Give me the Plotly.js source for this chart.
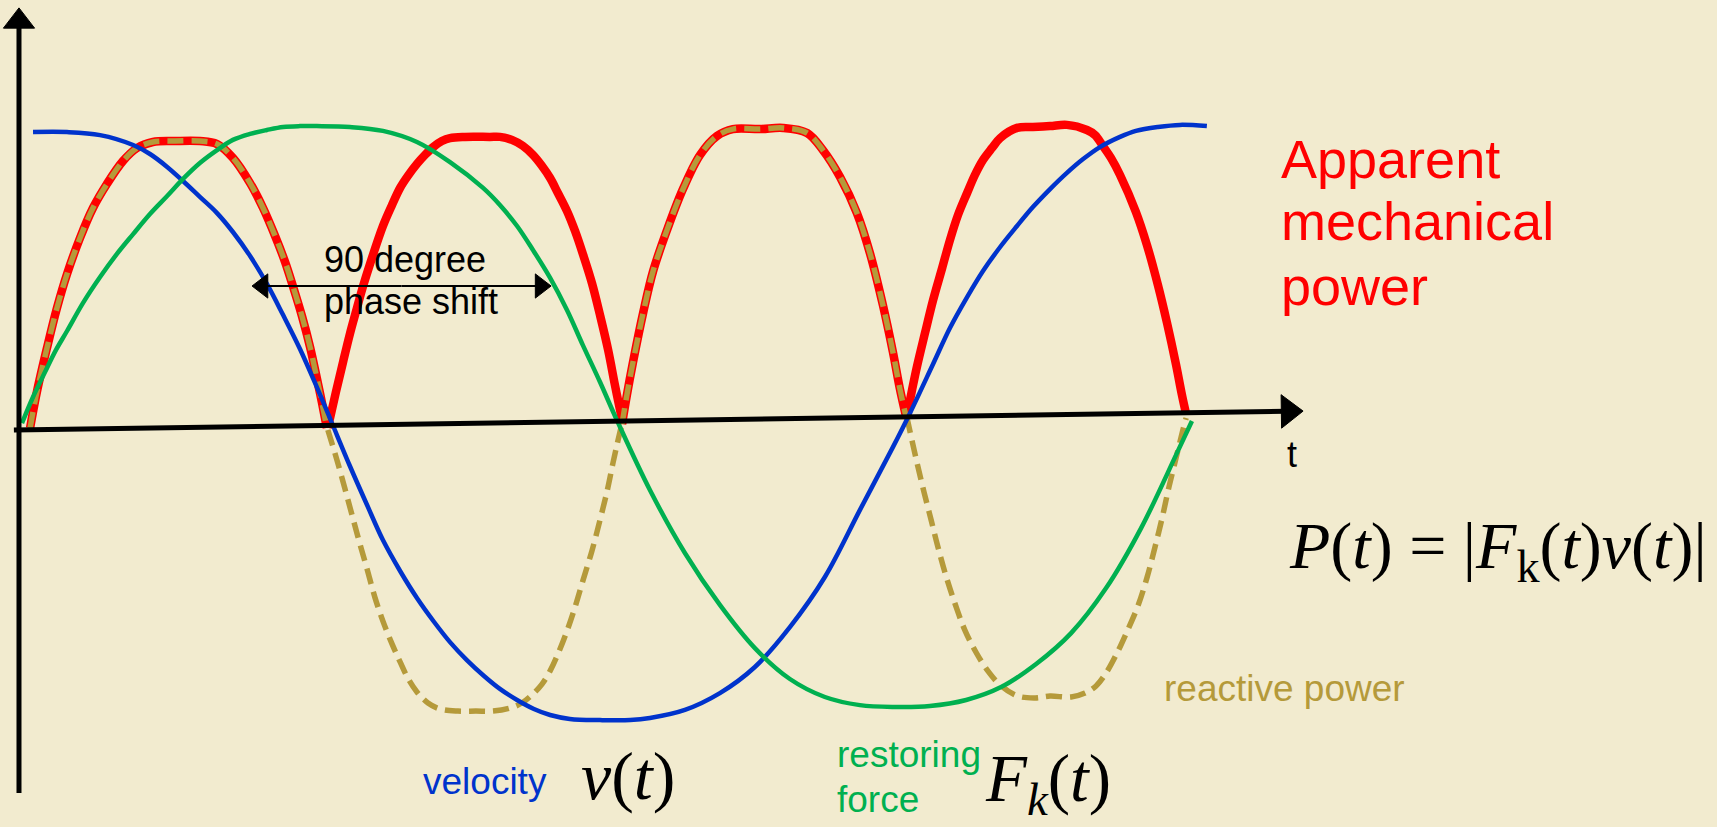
<!DOCTYPE html>
<html>
<head>
<meta charset="utf-8">
<script src="https://cdn.plot.ly/plotly-3.0.1.min.js"></script>
<style>
  html, body { margin: 0; padding: 0; background: #F2EBCF; }
  #chart { width: 1717px; height: 827px; }
</style>
</head>
<body>
<div id="chart"></div>
<script>
// phase t in degrees, amplitude normalised to ~1

// velocity v(t)
const velT = [3.4, 13.9, 24.1, 34.3, 39.5, 44.8, 49.7, 54.9, 60.2, 65.1, 70.4, 75.6, 80.6, 85.8, 91.0, 95.4, 101.2, 106.5, 111.4, 116.7, 121.9, 127.2, 132.1, 137.3, 142.6, 147.5, 152.8, 158.0, 163.0, 169.1, 178.4, 187.7, 193.8, 204.6, 215.4, 226.2, 237.0, 247.8, 258.6, 268.8, 274.1, 281.2, 286.4, 291.7, 296.6, 301.9, 307.1, 312.0, 317.3, 322.5, 327.5, 332.7, 338.9, 343.8, 350.6, 357.4, 365.7];
const velY = [0.993, 0.993, 0.983, 0.95, 0.92, 0.877, 0.83, 0.777, 0.723, 0.66, 0.58, 0.487, 0.383, 0.27, 0.143, 0.03, -0.12, -0.25, -0.367, -0.47, -0.56, -0.64, -0.707, -0.767, -0.82, -0.863, -0.9, -0.93, -0.95, -0.963, -0.967, -0.967, -0.96, -0.933, -0.877, -0.79, -0.657, -0.49, -0.267, -0.057, 0.057, 0.22, 0.34, 0.443, 0.53, 0.61, 0.68, 0.743, 0.803, 0.857, 0.903, 0.943, 0.977, 0.997, 1.01, 1.017, 1.013];

// restoring force Fk(t)
const forceT = [0, 3.4, 7.1, 10.5, 13.9, 18.8, 24.1, 29.3, 34.3, 39.5, 44.8, 49.7, 54.9, 60.2, 65.1, 70.4, 75.6, 80.6, 85.8, 91.0, 101.2, 111.4, 121.9, 132.1, 142.3, 147.5, 152.8, 157.7, 163.0, 168.2, 173.1, 178.4, 183.6, 193.8, 204.6, 215.4, 226.2, 237.0, 247.8, 258.6, 269.4, 280.2, 291.4, 302.2, 313.0, 323.8, 334.6, 345.4, 356.2, 361.1];
const forceY = [0.023, 0.11, 0.193, 0.267, 0.33, 0.423, 0.51, 0.587, 0.653, 0.72, 0.78, 0.837, 0.89, 0.933, 0.967, 0.987, 1.0, 1.01, 1.013, 1.013, 1.01, 0.997, 0.96, 0.893, 0.807, 0.75, 0.68, 0.6, 0.507, 0.4, 0.283, 0.16, 0.033, -0.2, -0.41, -0.583, -0.727, -0.83, -0.89, -0.917, -0.923, -0.92, -0.9, -0.857, -0.78, -0.677, -0.527, -0.327, -0.083, 0.03];

// apparent power |F v|, one hump per quarter period (null splits the humps)
const apparentT = [2.5, 4.6, 7.7, 10.8, 13.9, 17.9, 21.9, 26.2, 31.2, 35.5, 40.4, 47.2, 54.9, 60.2, 65.1, 70.4, 74.4, 78.1, 81.2, 83.6, 86.4, 88.9, 91.0, 92.6, 94.1, null,
  94.4, 96.9, 99.1, 101.2, 103.4, 105.2, 107.4, 111.4, 114.2, 116.7, 119.1, 121.9, 124.4, 126.9, 129.6, 132.1, 136.7, 144.4, 147.5, 151.2, 154.6, 157.7, 160.5, 163.0, 165.4, 168.2, 170.7, 173.1, 175.9, 178.4, 180.9, 183.0, 184.9, 185.5, null,
  185.2, 186.7, 188.6, 191.7, 194.8, 199.1, 204.0, 209.3, 214.5, 219.4, 227.8, 234.9, 242.3, 247.2, 252.5, 257.7, 261.7, 265.7, 268.8, 270.9, 272.8, null,
  273.1, 274.7, 276.2, 278.7, 281.2, 284.0, 286.4, 288.9, 291.7, 294.1, 296.6, 299.4, 301.9, 307.1, 312.0, 317.3, 322.5, 328.7, 331.2, 333.6, 336.1, 338.9, 343.8, 347.2, 350.6, 353.4, 356.2, 358.0, 359.3];
const apparentY = [0.007, 0.127, 0.273, 0.407, 0.52, 0.64, 0.74, 0.82, 0.897, 0.94, 0.96, 0.963, 0.963, 0.953, 0.907, 0.823, 0.74, 0.647, 0.56, 0.48, 0.38, 0.277, 0.173, 0.09, 0.007, null,
  0.007, 0.127, 0.227, 0.32, 0.407, 0.477, 0.553, 0.68, 0.75, 0.807, 0.847, 0.887, 0.917, 0.943, 0.963, 0.973, 0.977, 0.977, 0.977, 0.967, 0.947, 0.917, 0.88, 0.84, 0.79, 0.73, 0.663, 0.587, 0.49, 0.383, 0.267, 0.15, 0.05, 0.02, null,
  0.02, 0.117, 0.227, 0.39, 0.53, 0.667, 0.803, 0.917, 0.98, 1.003, 1.003, 1.007, 0.99, 0.933, 0.843, 0.723, 0.59, 0.417, 0.26, 0.14, 0.047, null,
  0.047, 0.133, 0.21, 0.323, 0.433, 0.54, 0.633, 0.717, 0.79, 0.85, 0.9, 0.94, 0.973, 1.007, 1.01, 1.013, 1.017, 1.0, 0.983, 0.947, 0.907, 0.85, 0.727, 0.617, 0.483, 0.357, 0.217, 0.117, 0.053];

// reactive power F v (signed): humps 1 and 3 coincide with the apparent power
const reactiveT = [2.5, 4.6, 7.7, 10.8, 13.9, 17.9, 21.9, 26.2, 31.2, 35.5, 40.4, 47.2, 54.9, 60.2, 65.1, 70.4, 74.4, 78.1, 81.2, 83.6, 86.4, 88.9, 91.0, 92.6, 94.1, null,
  94.4, 97.2, 99.7, 102.2, 104.3, 106.5, 108.9, 111.4, 114.2, 116.7, 119.1, 121.9, 125.3, 129.0, 134.6, 140.1, 145.4, 150.6, 154.3, 157.7, 160.5, 163.0, 165.4, 168.2, 170.7, 173.1, 175.9, 178.4, 180.6, 182.4, 183.9, 185.2, null,
  185.2, 186.7, 188.6, 191.7, 194.8, 199.1, 204.0, 209.3, 214.5, 219.4, 227.8, 234.9, 242.3, 247.2, 252.5, 257.7, 261.7, 265.7, 268.8, 270.9, 272.8, null,
  273.1, 275.9, 278.4, 280.6, 282.7, 285.2, 288.0, 291.0, 294.4, 298.1, 302.2, 307.4, 312.7, 317.3, 323.8, 328.1, 331.5, 334.6, 338.0, 341.0, 344.4, 347.2, 349.7, 351.9, 354.0, 356.2, 358.3, 359.3];
const reactiveY = [0.007, 0.127, 0.273, 0.407, 0.52, 0.64, 0.74, 0.82, 0.897, 0.94, 0.96, 0.963, 0.963, 0.953, 0.907, 0.823, 0.74, 0.647, 0.56, 0.48, 0.38, 0.277, 0.173, 0.09, 0.007, null,
  0, -0.1, -0.197, -0.297, -0.38, -0.463, -0.557, -0.637, -0.713, -0.773, -0.827, -0.873, -0.91, -0.93, -0.937, -0.937, -0.937, -0.927, -0.91, -0.88, -0.847, -0.803, -0.747, -0.67, -0.59, -0.503, -0.403, -0.3, -0.203, -0.11, -0.037, 0.023, null,
  0.02, 0.117, 0.227, 0.39, 0.53, 0.667, 0.803, 0.917, 0.98, 1.003, 1.003, 1.007, 0.99, 0.933, 0.843, 0.723, 0.59, 0.417, 0.26, 0.14, 0.047, null,
  0.043, -0.093, -0.207, -0.3, -0.39, -0.487, -0.58, -0.667, -0.74, -0.803, -0.853, -0.887, -0.893, -0.887, -0.89, -0.877, -0.853, -0.81, -0.743, -0.673, -0.587, -0.493, -0.39, -0.293, -0.19, -0.093, 0, 0.04];

// hand drawn axes (the t axis is slightly tilted in the drawing)
const tAxisX = [-2.5, 395.4];
const tAxisY = [0.0, 0.063];
const yAxisX = [-0.93, -0.93];
const yAxisY = [-1.21, 1.407];
// 90 degree phase shift marker, drawn from its middle out to both heads
const shiftX = [71.0, 163.3];
const shiftY = [0.48, 0.48];

const BG = '#F2EBCF';
const RED = '#FF0000';
const TAN = '#B59A3A';
const BLUE = '#0033CC';
const GREEN = '#00B050';
const SANS = 'Liberation Sans, Arial, sans-serif';
const SERIF = 'Liberation Serif, Times New Roman, serif';

// line with a filled triangular head at the end of every segment
function arrowTrace(xs, ys, width, head) {
  return {x: xs, y: ys, type: 'scatter', mode: 'lines+markers', hoverinfo: 'skip',
    line: {color: '#000000', width: width, backoff: head * 0.6},
    marker: {symbol: 'triangle-up', angleref: 'previous', color: '#000000', opacity: 1,
      line: {color: '#000000', width: 1}, standoff: head / 2,
      size: xs.map((v, i) => (i === 0 || xs[i - 1] === null || v === null) ? 0 : head)}};
}

const midX = (shiftX[0] + shiftX[1]) / 2;
const midY = (shiftY[0] + shiftY[1]) / 2;

const traces = [
  {x: apparentT, y: apparentY, type: 'scatter', mode: 'lines', name: 'Apparent mechanical power',
   line: {color: RED, width: 8.5, shape: 'spline', smoothing: 1}},
  {x: reactiveT, y: reactiveY, type: 'scatter', mode: 'lines', name: 'reactive power',
   line: {color: TAN, width: 5.5, dash: '16px,8px', shape: 'spline', smoothing: 1}},
  {x: velT, y: velY, type: 'scatter', mode: 'lines', name: 'velocity',
   line: {color: BLUE, width: 4.5, shape: 'spline', smoothing: 1}},
  {x: forceT, y: forceY, type: 'scatter', mode: 'lines', name: 'restoring force',
   line: {color: GREEN, width: 4.5, shape: 'spline', smoothing: 1}},
  arrowTrace(tAxisX, tAxisY, 5, 29),
  arrowTrace(yAxisX, yAxisY, 5, 27),
  arrowTrace([midX, shiftX[0], null, midX, shiftX[1]], [midY, shiftY[0], null, midY, shiftY[1]], 2, 21)
];

function label(x, y, text, color, size, family) {
  return {x: x, y: y, xref: 'x', yref: 'y', text: text, showarrow: false,
    xanchor: 'left', yanchor: 'middle', font: {color: color, size: size, family: family || SANS}};
}

const annotations = [
  label(388, 0.903, 'Apparent', RED, 54),
  label(388, 0.697, 'mechanical', RED, 54),
  label(388, 0.48, 'power', RED, 54),
  label(92.6, 0.57, '90 degree', '#000000', 36),
  label(92.6, 0.427, 'phase shift', '#000000', 36),
  label(389.8, -0.083, 't', '#000000', 36),
  label(390.4, -0.4, '<i>P</i>(<i>t</i>) = |<i>F</i><sub>k</sub>(<i>t</i>)<i>v</i>(<i>t</i>)|', '#000000', 66, SERIF),
  label(351.9, -0.863, 'reactive power', TAN, 37),
  label(123, -1.173, 'velocity', BLUE, 37),
  label(172.0, -1.153, '<i>v</i>(<i>t</i>)', '#000000', 68, SERIF),
  label(250.9, -1.08, 'restoring', GREEN, 37),
  label(250.9, -1.23, 'force', GREEN, 37),
  label(296.6, -1.175, '<i>F</i><sub><i>k</i></sub>(<i>t</i>)', '#000000', 67, SERIF)
];

const layout = {
  width: 1717, height: 827,
  margin: {l: 0, r: 0, t: 0, b: 0},
  paper_bgcolor: BG, plot_bgcolor: BG,
  showlegend: false,
  xaxis: {range: [-6.79, 523.15], visible: false, fixedrange: true},
  yaxis: {range: [-1.3233, 1.4333], visible: false, fixedrange: true},
  annotations: annotations
};

Plotly.newPlot('chart', traces, layout, {displayModeBar: false, staticPlot: true});
</script>
</body>
</html>
